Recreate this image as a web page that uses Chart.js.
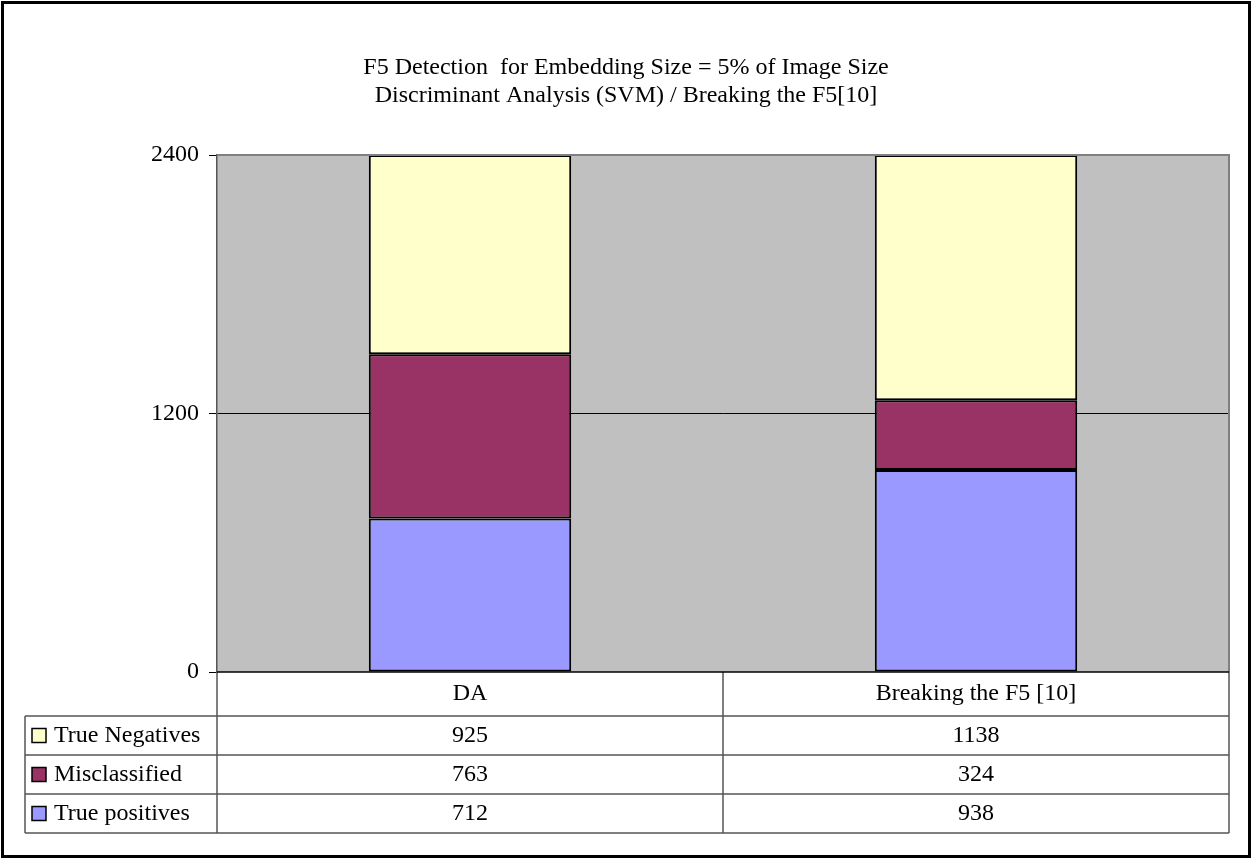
<!DOCTYPE html>
<html>
<head>
<meta charset="utf-8">
<script src="https://cdn.jsdelivr.net/npm/chart.js@4/dist/chart.umd.min.js"></script>
<style>
  html, body { margin: 0; padding: 0; background: #fff; }
  #wrap { width: 1252px; height: 859px; }
</style>
</head>
<body>
<div id="wrap"><canvas id="chart" width="1252" height="859"></canvas></div>
<script>
// ---- datos del gráfico ----
const categories = ['DA', 'Breaking the F5 [10]'];
const truePositives = [712, 938];
const misclassified = [763, 324];
const trueNegatives = [925, 1138];
const yTicks = [0, 1200, 2400];
const titleLines = [
    'F5 Detection  for Embedding Size = 5% of Image Size',
    'Discriminant Analysis (SVM) / Breaking the F5[10]'
];

const FONT = '"Liberation Serif", "Times New Roman", serif';
const FONT_SIZE = 24;

const series = [
    { label: 'True positives', data: truePositives, color: '#9999FF' },
    { label: 'Misclassified', data: misclassified, color: '#993366' },
    { label: 'True Negatives', data: trueNegatives, color: '#FFFFCC' }
];

// fondo gris del área de trazado
const plotBackground = {
    id: 'plotBackground',
    beforeDraw(chart) {
        const { ctx, chartArea: a } = chart;
        ctx.save();
        ctx.fillStyle = '#fff';
        ctx.fillRect(0, 0, chart.width, chart.height);
        ctx.fillStyle = '#C0C0C0';
        ctx.fillRect(a.left, a.top, a.right - a.left, a.bottom - a.top);
        ctx.restore();
    }
};

// título, tabla de datos y marco exterior
const dataTable = {
    id: 'dataTable',
    afterDraw(chart) {
        const { ctx, chartArea: a } = chart;
        const x = chart.scales.x;
        const headerH = 44, rowH = 39, tableLeft = 25;
        const top = a.bottom;
        const rowsTop = top + headerH;
        const bottom = rowsTop + rowH * series.length;

        ctx.save();

        // título
        ctx.fillStyle = '#000';
        ctx.font = FONT_SIZE + 'px ' + FONT;
        ctx.textAlign = 'center';
        ctx.textBaseline = 'middle';
        ctx.fillText(titleLines[0], 626, 68);
        ctx.fillText(titleLines[1], 626, 96);

        // borde del área de trazado (arriba y derecha)
        ctx.strokeStyle = '#808080';
        ctx.lineWidth = 2;
        ctx.beginPath();
        ctx.moveTo(a.left, a.top);
        ctx.lineTo(a.right, a.top);
        ctx.lineTo(a.right, bottom);
        ctx.stroke();

        // límites de columnas
        const bounds = [a.left];
        for (let i = 0; i < categories.length - 1; i++) {
            bounds.push((x.getPixelForValue(i) + x.getPixelForValue(i + 1)) / 2);
        }
        bounds.push(a.right);

        ctx.strokeStyle = '#555';
        ctx.lineWidth = 1.5;
        ctx.beginPath();
        for (let r = 0; r <= series.length; r++) {
            const y = rowsTop + r * rowH;
            ctx.moveTo(tableLeft, y); ctx.lineTo(a.right, y);
        }
        ctx.moveTo(tableLeft, rowsTop); ctx.lineTo(tableLeft, bottom);
        ctx.moveTo(a.left, top); ctx.lineTo(a.left, bottom);
        for (let i = 1; i < bounds.length - 1; i++) {
            ctx.moveTo(bounds[i], top); ctx.lineTo(bounds[i], bottom);
        }
        ctx.stroke();

        // eje x
        ctx.strokeStyle = '#000';
        ctx.lineWidth = 1.5;
        ctx.beginPath();
        ctx.moveTo(a.left, top); ctx.lineTo(a.right, top);
        ctx.stroke();

        // cabeceras
        ctx.fillStyle = '#000';
        ctx.font = FONT_SIZE + 'px ' + FONT;
        ctx.textAlign = 'center';
        categories.forEach((c, i) => {
            ctx.fillText(c, x.getPixelForValue(i), top + headerH / 2);
        });

        // filas (orden inverso: la serie de arriba primero)
        const rows = series.slice().reverse();
        rows.forEach((s, r) => {
            const cy = rowsTop + r * rowH + rowH / 2;
            ctx.fillStyle = s.color;
            ctx.fillRect(32, cy - 7, 14, 14);
            ctx.strokeStyle = '#000';
            ctx.lineWidth = 1.5;
            ctx.strokeRect(32, cy - 7, 14, 14);
            ctx.fillStyle = '#000';
            ctx.textAlign = 'left';
            ctx.fillText(s.label, 54, cy);
            ctx.textAlign = 'center';
            s.data.forEach((v, i) => {
                ctx.fillText(String(v), x.getPixelForValue(i), cy);
            });
        });

        // marco exterior
        ctx.strokeStyle = '#000';
        ctx.lineWidth = 3;
        ctx.strokeRect(2.5, 2.5, 1247, 854);

        ctx.restore();
    }
};

new Chart(document.getElementById('chart'), {
    type: 'bar',
    data: {
        labels: categories,
        datasets: series.map(s => ({
            label: s.label,
            data: s.data,
            backgroundColor: s.color,
            borderColor: '#000',
            borderWidth: 2,
            borderSkipped: false,
            categoryPercentage: 1,
            barPercentage: 0.4
        }))
    },
    options: {
        responsive: false,
        animation: false,
        layout: { padding: { left: 0, right: 23, top: 155, bottom: 187 } },
        plugins: {
            legend: { display: false },
            title: { display: false },
            tooltip: { enabled: false }
        },
        scales: {
            x: {
                stacked: true,
                display: false
            },
            y: {
                stacked: true,
                min: 0,
                max: 2400,
                afterBuildTicks(scale) {
                    scale.ticks = yTicks.map(v => ({ value: v }));
                },
                afterFit(scale) {
                    scale.width = 217;
                },
                ticks: {
                    color: '#000',
                    font: { family: FONT, size: FONT_SIZE },
                    padding: 10,
                    callback: v => String(v)
                },
                grid: {
                    color: ctx => (ctx.tick && ctx.tick.value === 1200) ? '#000' : 'rgba(0,0,0,0)',
                    tickColor: '#000',
                    tickLength: 8,
                    lineWidth: 1
                },
                border: { color: '#555', width: 1.5 }
            }
        }
    },
    plugins: [plotBackground, dataTable]
});
</script>
</body>
</html>
